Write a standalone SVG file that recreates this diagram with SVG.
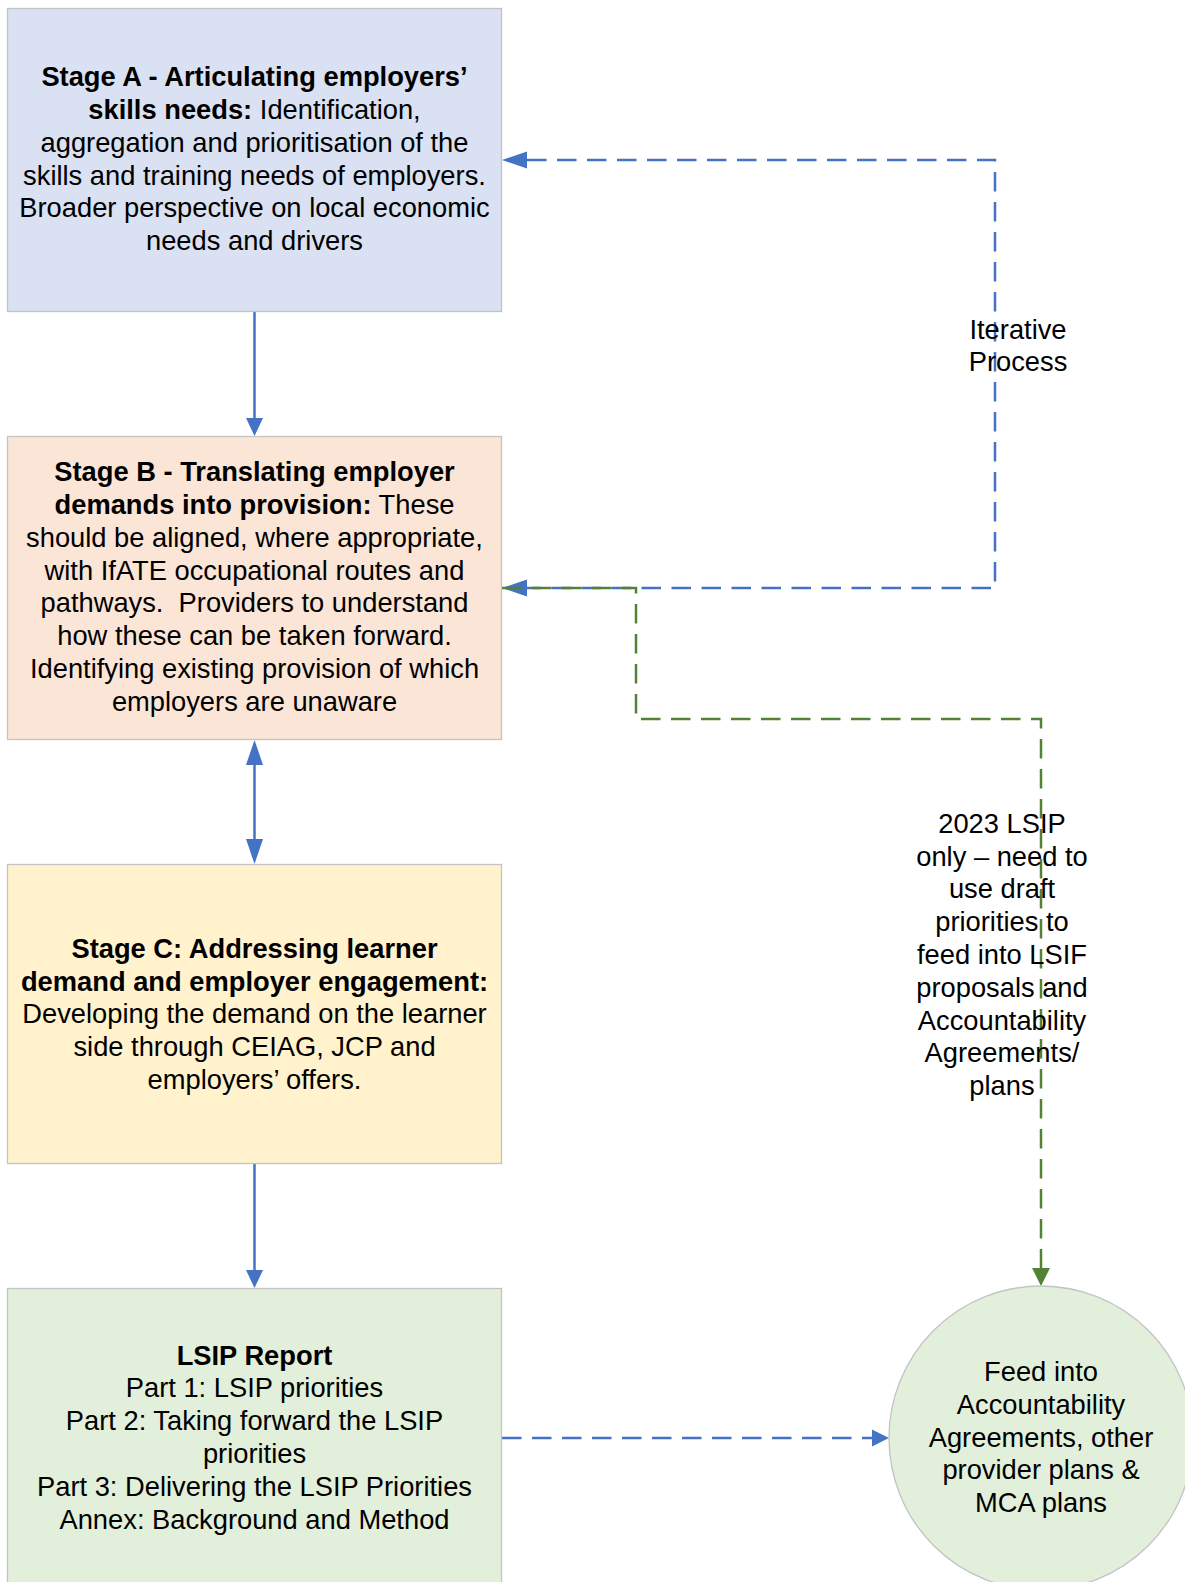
<svg xmlns="http://www.w3.org/2000/svg" width="1185" height="1582" viewBox="0 0 1185 1582">
<style>
text{font-family:"Liberation Sans",Arial,sans-serif;font-size:27.3px;fill:#000;text-anchor:middle}
.b{font-weight:bold}
.box{stroke:#c3c3c3;stroke-width:1.3}
.solid{fill:none;stroke:#4472c4;stroke-width:2.5}
.dashb{fill:none;stroke:#4472c4;stroke-width:2.5;stroke-dasharray:19.5 10.5}
.dashg{fill:none;stroke:#548235;stroke-width:2.5;stroke-dasharray:19.5 10.5}
</style>
<defs>
<marker id="ab" markerUnits="userSpaceOnUse" markerWidth="30" markerHeight="20" refX="0" refY="0" viewBox="0 -10 30 20" orient="auto-start-reverse" overflow="visible"><path d="M0,-8.5 L25,0 L0,8.5 z" fill="#4472c4"/></marker>
<marker id="am" markerUnits="userSpaceOnUse" markerWidth="30" markerHeight="20" refX="0" refY="0" viewBox="0 -10 30 20" orient="auto" overflow="visible"><path d="M0,-8.5 L18,0 L0,8.5 z" fill="#4472c4"/></marker>
<marker id="as" markerUnits="userSpaceOnUse" markerWidth="30" markerHeight="20" refX="0" refY="0" viewBox="0 -10 30 20" orient="auto" overflow="visible"><path d="M0,-8.5 L17,0 L0,8.5 z" fill="#4472c4"/></marker>
<marker id="ag" markerUnits="userSpaceOnUse" markerWidth="30" markerHeight="20" refX="0" refY="0" viewBox="0 -10 30 20" orient="auto" overflow="visible"><path d="M0,-9 L18,0 L0,9 z" fill="#548235"/></marker>
</defs>
<rect width="1185" height="1582" fill="#fff"/>

<g id="connectors">
<path class="solid" d="M254.5,311.5 L254.5,418" marker-end="url(#am)"/>
<path class="solid" d="M254.5,765 L254.5,839" marker-start="url(#ab)" marker-end="url(#ab)"/>
<path class="solid" d="M254.5,1163.5 L254.5,1270" marker-end="url(#am)"/>
<path class="dashb" d="M502,1438 L872,1438" marker-end="url(#as)"/>
<path class="dashb" d="M527,160 L995,160 L995,588 L527,588" marker-start="url(#ab)" marker-end="url(#ab)"/>
<path class="dashg" d="M502,588 L636,588 L636,719 L1041,719 L1041,1268" marker-end="url(#ag)"/>
</g>

<g id="stageA">
<rect class="box" x="7.5" y="8.5" width="494" height="303" fill="#dae1f2"/>
<text x="254.5" y="86.2"><tspan class="b">Stage A - Articulating employers’</tspan></text>
<text x="254.5" y="119"><tspan class="b">skills needs:</tspan> Identification,</text>
<text x="254.5" y="151.8">aggregation and prioritisation of the</text>
<text x="254.5" y="184.6">skills and training needs of employers.</text>
<text x="254.5" y="217.4">Broader perspective on local economic</text>
<text x="254.5" y="250.2">needs and drivers</text>
</g>

<g id="stageB">
<rect class="box" x="7.5" y="436.5" width="494" height="303" fill="#fbe5d6"/>
<text x="254.5" y="481.2"><tspan class="b">Stage B - Translating employer</tspan></text>
<text x="254.5" y="514"><tspan class="b">demands into provision:</tspan> These</text>
<text x="254.5" y="546.8">should be aligned, where appropriate,</text>
<text x="254.5" y="579.6">with IfATE occupational routes and</text>
<text x="254.5" y="612.4">pathways.&#160; Providers to understand</text>
<text x="254.5" y="645.2">how these can be taken forward.</text>
<text x="254.5" y="678">Identifying existing provision of which</text>
<text x="254.5" y="710.8">employers are unaware</text>
</g>

<g id="stageC">
<rect class="box" x="7.5" y="864.5" width="494" height="299" fill="#fff2cc"/>
<text x="254.5" y="957.8" class="b">Stage C: Addressing learner</text>
<text x="254.5" y="990.6" class="b">demand and employer engagement:</text>
<text x="254.5" y="1023.4">Developing the demand on the learner</text>
<text x="254.5" y="1056.2">side through CEIAG, JCP and</text>
<text x="254.5" y="1089">employers’ offers.</text>
</g>

<g id="lsipReport">
<rect class="box" x="7.5" y="1288.5" width="494" height="310" fill="#e2efda"/>
<text x="254.5" y="1364.5" class="b">LSIP Report</text>
<text x="254.5" y="1397.3">Part 1: LSIP priorities</text>
<text x="254.5" y="1430.1">Part 2: Taking forward the LSIP</text>
<text x="254.5" y="1462.9">priorities</text>
<text x="254.5" y="1495.7">Part 3: Delivering the LSIP Priorities</text>
<text x="254.5" y="1528.5">Annex: Background and Method</text>
</g>

<g id="feedInto">
<circle class="box" cx="1041" cy="1438" r="152" fill="#e2efda"/>
<text x="1041" y="1381">Feed into</text>
<text x="1041" y="1413.8">Accountability</text>
<text x="1041" y="1446.6">Agreements, other</text>
<text x="1041" y="1479.4">provider plans &amp;</text>
<text x="1041" y="1512.2">MCA plans</text>
</g>

<g id="labels">
<text x="1018" y="338.5">Iterative</text>
<text x="1018" y="371.3">Process</text>
<text x="1002" y="832.8">2023 LSIP</text>
<text x="1002" y="865.6">only – need to</text>
<text x="1002" y="898.4">use draft</text>
<text x="1002" y="931.2">priorities to</text>
<text x="1002" y="964">feed into LSIF</text>
<text x="1002" y="996.8">proposals and</text>
<text x="1002" y="1029.6">Accountability</text>
<text x="1002" y="1062.4">Agreements/</text>
<text x="1002" y="1095.2">plans</text>
</g>
</svg>
